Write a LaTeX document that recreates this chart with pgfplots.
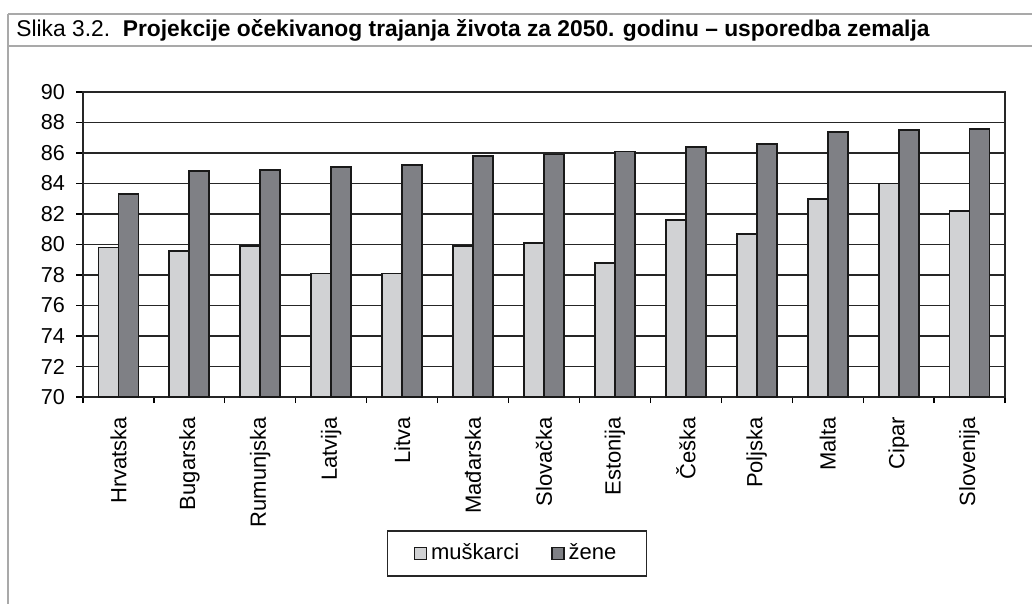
\documentclass[border=0pt]{standalone}
\usepackage{fontspec}
\setmainfont{Liberation Sans}
\usepackage{pgfplots}
\pgfplotsset{compat=1.18}

\definecolor{muski}{HTML}{D1D2D4}
\definecolor{zene}{HTML}{7F8085}
\definecolor{okvir}{HTML}{A9A9A9}

\pgfplotstableread{
idx muski zene
0  79.8 83.3
1  79.6 84.8
2  79.9 84.9
3  78.1 85.1
4  78.1 85.2
5  79.9 85.8
6  80.1 85.9
7  78.8 86.1
8  81.6 86.4
9  80.7 86.6
10 83.0 87.4
11 84.0 87.5
12 82.2 87.6
}\podaci

\begin{document}
\begin{tikzpicture}
% canvas 1032x605 px, 1px = 0.5pt, origin top-left
\path[use as bounding box] (0,0) rectangle (516pt,-302.5pt);
\draw[okvir, line width=1pt] (4pt,-7pt) -- (516pt,-7pt);
\draw[okvir, line width=1pt] (4pt,-23pt) -- (516pt,-23pt);
\draw[okvir, line width=1pt] (4pt,-7pt) -- (4pt,-302pt);
\node[anchor=west, inner sep=0pt, font=\fontsize{11.4}{13}\selectfont] at (8pt,-15.3pt)
  {Slika 3.2.\ \ \textbf{Projekcije očekivanog trajanja života za 2050. godinu – usporedba zemalja}};

\begin{axis}[
  at={(41.5pt,-198.5pt)}, anchor=south west,
  width=461pt, height=152.5pt, scale only axis,
  ybar=0pt, bar width=0.282,
  xmin=-0.5, xmax=12.5,
  ymin=70, ymax=90,
  ytick={70,72,...,90},
  xtick={0,...,12},
  xticklabels={Hrvatska,Bugarska,Rumunjska,Latvija,Litva,Mađarska,Slovačka,Estonija,Češka,Poljska,Malta,Cipar,Slovenija},
  minor xtick={-0.5,0.5,...,12.5},
  major x tick style={draw=none},
  xtick pos=bottom, ytick pos=left,
  tick align=outside,
  major tick length=3.5pt,
  minor tick length=3pt,
  tick style={black, line width=0.6pt},
  ymajorgrids,
  major grid style={black!85, line width=0.6pt},
  axis line style={black!85, line width=0.8pt},
  xticklabel style={yshift=-3pt, rotate=90, anchor=east, font=\fontsize{11}{13}\selectfont},
  yticklabel style={xshift=-2pt, font=\fontsize{10.8}{13}\selectfont},
  /pgf/number format/assume math mode=true,
  legend columns=2,
  legend style={at={(0.4707,-0.513)}, anchor=center, draw=black!85, line width=0.7pt,
    font=\fontsize{11}{13}\selectfont, inner xsep=13pt, inner ysep=4.5pt,
    /tikz/every even column/.append style={column sep=14pt}},
  legend image code/.code={\draw[#1, line width=0.8pt] (0pt,-3pt) rectangle (6pt,3pt);},
]
\addplot[draw=black!90, line width=0.9pt, fill=muski] table[x=idx, y=muski] {\podaci};
\addlegendentry{muškarci}
\addplot[draw=black!90, line width=0.9pt, fill=zene] table[x=idx, y=zene] {\podaci};
\addlegendentry{žene}
\end{axis}
\end{tikzpicture}
\end{document}
